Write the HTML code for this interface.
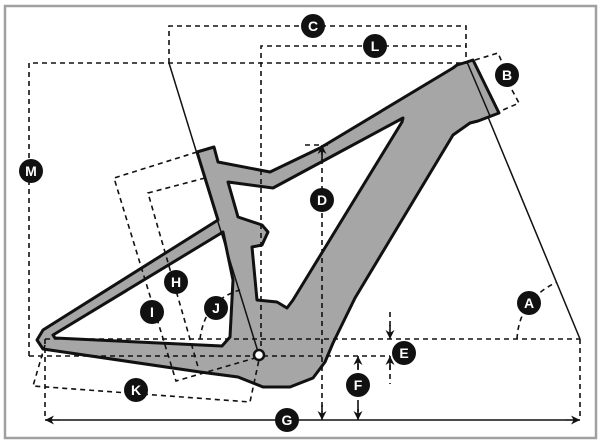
<!DOCTYPE html>
<html><head><meta charset="utf-8"><style>
html,body{margin:0;padding:0;background:#fff;}
svg{display:block;}
text{font-family:"Liberation Sans",sans-serif;font-weight:bold;fill:#fff;font-size:14px;text-anchor:middle;}
</style></head><body>
<svg width="601" height="445" viewBox="0 0 601 445" xmlns="http://www.w3.org/2000/svg">
<rect x="5" y="6" width="591" height="432" fill="#fff" stroke="#a0a0a0" stroke-width="2.5"/>
<defs>
<marker id="ah" viewBox="0 0 10 10" refX="10" refY="5" markerWidth="9" markerHeight="9" orient="auto-start-reverse" markerUnits="userSpaceOnUse"><path d="M0,0 L10,5 L0,10 L3,5 z" fill="#111"/></marker>
</defs>
<!-- frame -->
<path d="M197,152 L214,147 L218,162 L270,172 L320,148 L453,68 L457,65 L467,62 L473,60 L499,113 L478,121 L470,123 L453,135 L355,298 L333,343 L325,362 L313,378 L290,387 L263,387 L238,377 L200,372 L43,349 L37,340 L43,330 L218,220 Z" fill="#a6a6a6" stroke="#111" stroke-width="3" stroke-linejoin="round"/>
<path d="M403,118 L325,160 L273,188 L228,182 L238,217 L262,225 L268,232 L262,245 L252,247 L257,300 L277,302 L287,308 L293,300 L402,122 Z" fill="#fff" stroke="#111" stroke-width="3" stroke-linejoin="round"/>
<path d="M53,335 L223,232 L233,280 L230,337 L222,346 L55,338 Z" fill="#fff" stroke="#111" stroke-width="3" stroke-linejoin="round"/>
<line x1="467" y1="62" x2="490" y2="116" stroke="#111" stroke-width="1.5"/>
<!-- solid axis lines -->
<line x1="169" y1="63" x2="259" y2="355" stroke="#111" stroke-width="1.5"/>
<line x1="488" y1="117" x2="580" y2="339" stroke="#111" stroke-width="1.5"/>
<!-- dashed -->
<g fill="none" stroke="#111" stroke-width="1.6" stroke-dasharray="5,4">
<polyline points="29,356 29,63 468,63"/>
<polyline points="169,63 169,26 466,26 466,63"/>
<polyline points="261,355 261,46 466,46"/>
<line x1="29" y1="356" x2="390" y2="356"/>
<line x1="45" y1="339" x2="580" y2="339"/>
<line x1="45" y1="339" x2="45" y2="420"/>
<line x1="580" y1="339" x2="580" y2="418"/>
<line x1="305" y1="145" x2="330" y2="145"/>
<line x1="322" y1="150" x2="322" y2="412"/>
<line x1="358" y1="364" x2="358" y2="412"/>
<line x1="390" y1="312" x2="390" y2="330"/>
<line x1="390" y1="365" x2="390" y2="384"/>
<polyline points="475,60 498,53 504,67"/>
<polyline points="512,90 519,103 503,110"/>
<path d="M517,339 Q519,300 557,282"/>
<polyline points="197,152 114,178 176,381 255,358"/>
<polyline points="205,178 148,193 198,367"/>
<path d="M200,339 Q205,300 240,290"/>
<polyline points="45,345 33,386 250,402 260,355"/>
</g>
<!-- arrows -->
<g stroke="#111" stroke-width="1.6" fill="none">
<line x1="60" y1="420" x2="565" y2="420"/>
<line x1="322" y1="160" x2="322" y2="145" marker-end="url(#ah)"/>
<line x1="322" y1="405" x2="322" y2="420" marker-end="url(#ah)"/>
<line x1="358" y1="370" x2="358" y2="356" marker-end="url(#ah)"/>
<line x1="358" y1="405" x2="358" y2="420" marker-end="url(#ah)"/>
<line x1="390" y1="325" x2="390" y2="339" marker-end="url(#ah)"/>
<line x1="390" y1="370" x2="390" y2="356" marker-end="url(#ah)"/>
<line x1="60" y1="420" x2="45" y2="420" marker-end="url(#ah)"/>
<line x1="565" y1="420" x2="580" y2="420" marker-end="url(#ah)"/>
</g>
<!-- BB -->
<circle cx="259" cy="355" r="5" fill="#fff" stroke="#111" stroke-width="2.5"/>
<!-- labels -->
<g fill="#111">
<circle cx="313" cy="26" r="12"/><circle cx="375" cy="46" r="12"/><circle cx="507" cy="75" r="12"/>
<circle cx="31" cy="171" r="12"/><circle cx="322" cy="200" r="12"/><circle cx="176" cy="282" r="12"/>
<circle cx="152" cy="312" r="12"/><circle cx="216" cy="308" r="12"/><circle cx="529" cy="303" r="12"/>
<circle cx="404" cy="353" r="12"/><circle cx="358" cy="385" r="12"/><circle cx="136" cy="390" r="12"/>
<circle cx="287" cy="420" r="12"/>
</g>
<text x="313" y="31">C</text><text x="375" y="51">L</text><text x="507" y="80">B</text>
<text x="31" y="176">M</text><text x="322" y="205">D</text><text x="176" y="287">H</text>
<text x="152" y="317">I</text><text x="216" y="313">J</text><text x="529" y="308">A</text>
<text x="404" y="358">E</text><text x="358" y="390">F</text><text x="136" y="395">K</text>
<text x="287" y="425">G</text>
</svg>
</body></html>
